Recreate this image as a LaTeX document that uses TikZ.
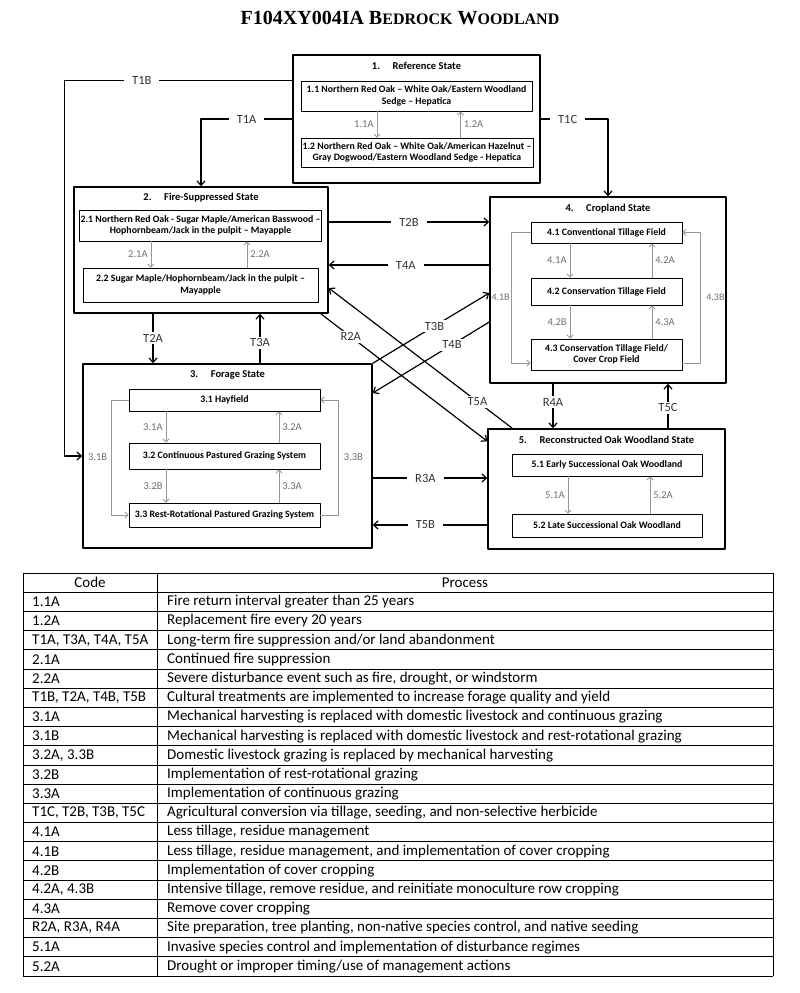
\documentclass[tikz,border=0pt]{standalone}
\usepackage{fontspec}
\setmainfont{Carlito}
\newfontfamily\titlefont{Liberation Serif}
\usetikzlibrary{arrows.meta}
\definecolor{arrgray}{RGB}{150,150,150}
\definecolor{labgray}{RGB}{110,110,110}
\begin{document}
\begin{tikzpicture}[x=1pt,y=-1pt,>={Straight Barb[length=4.5pt,width=8pt]},line join=round,
	statebox/.style={draw,line width=1.4pt,inner sep=0pt},
	subbox/.style={draw,line width=0.9pt,inner sep=1pt,align=center,font=\bfseries\fontsize{9.8}{11.5}\selectfont},
	stitle/.style={font=\bfseries\fontsize{10.5}{12}\selectfont},
	trans/.style={->,line width=1.2pt},
	tlabel/.style={fill=white,inner xsep=8pt,inner ysep=2pt,text=black!80,font=\fontsize{12.5}{13}\selectfont},
	subarr/.style={arrgray,line width=0.8pt,-{Straight Barb[length=3pt,width=6pt]}},
	slabel/.style={labgray,inner sep=3pt,font=\fontsize{10.5}{11}\selectfont},
	tabline/.style={line width=0.8pt},
	tabtext/.style={anchor=west,inner sep=0pt,font=\fontsize{15}{16}\selectfont}]
	\useasboundingbox (0,0) rectangle (800,993);
	\node (title) at (400,18) {\titlefont\bfseries\fontsize{20}{20}\selectfont F104XY004IA B{\fontsize{16}{16}\selectfont EDROCK} W{\fontsize{16}{16}\selectfont OODLAND}};
	% states
	\node[statebox,minimum width=247pt,minimum height=128pt] (s1) at (416.5,119) {};
	\node[statebox,minimum width=254pt,minimum height=126pt] (s2) at (201,250) {};
	\node[statebox,minimum width=289pt,minimum height=184pt] (s3) at (227.5,456) {};
	\node[statebox,minimum width=236pt,minimum height=186pt] (s4) at (608,290) {};
	\node[statebox,minimum width=237pt,minimum height=120pt] (s5) at (606.5,489) {};
	\node[stitle] at (416.5,66) {1.\hspace{1.2em}Reference State};
	\node[stitle] at (201,198) {2.\hspace{1.2em}Fire-Suppressed State};
	\node[stitle] at (227.5,375) {3.\hspace{1.2em}Forage State};
	\node[stitle] at (608,209) {4.\hspace{1.2em}Cropland State};
	\node[stitle] at (606.5,440) {5.\hspace{1.2em}Reconstructed Oak Woodland State};
	% community phases
	\node[subbox,minimum width=231pt,minimum height=30pt] (b11) at (416.5,96) {1.1 Northern Red Oak -- White Oak/Eastern Woodland\\Sedge -- Hepatica};
	\node[subbox,minimum width=232pt,minimum height=29pt] (b12) at (417,152.5) {1.2 Northern Red Oak -- White Oak/American Hazelnut --\\Gray Dogwood/Eastern Woodland Sedge - Hepatica};
	\node[subbox,minimum width=235pt,minimum height=31pt] (b21) at (200.5,225.5) {2.1 Northern Red Oak - Sugar Maple/American Basswood --\\Hophornbeam/Jack in the pulpit -- Mayapple};
	\node[subbox,minimum width=235pt,minimum height=34pt] (b22) at (200.5,285) {2.2 Sugar Maple/Hophornbeam/Jack in the pulpit --\\Mayapple};
	\node[subbox,minimum width=191pt,minimum height=22pt] (b31) at (224.5,400) {3.1 Hayfield};
	\node[subbox,minimum width=191pt,minimum height=26pt] (b32) at (224.5,456) {3.2 Continuous Pastured Grazing System};
	\node[subbox,minimum width=191pt,minimum height=24pt] (b33) at (224.5,515) {3.3 Rest-Rotational Pastured Grazing System};
	\node[subbox,minimum width=151pt,minimum height=21pt] (b41) at (606.5,232.5) {4.1 Conventional Tillage Field};
	\node[subbox,minimum width=151pt,minimum height=27pt] (b42) at (606.5,291.5) {4.2 Conservation Tillage Field};
	\node[subbox,minimum width=151pt,minimum height=31pt] (b43) at (606.5,354.5) {4.3 Conservation Tillage Field/\\Cover Crop Field};
	\node[subbox,minimum width=190pt,minimum height=22pt] (b51) at (607,465) {5.1 Early Successional Oak Woodland};
	\node[subbox,minimum width=190pt,minimum height=23pt] (b52) at (607,525.5) {5.2 Late Successional Oak Woodland};
	% pathways inside states
	\draw[subarr] ([xshift=-39.5pt]b11.south) -- node[slabel,left]{1.1A} ([xshift=-39.5pt]b11.south |- b12.north);
	\draw[subarr] ([xshift=43.5pt]b12.north) -- node[slabel,right]{1.2A} ([xshift=43.5pt]b12.north |- b11.south);
	\draw[subarr] ([xshift=-49.5pt]b21.south) -- node[slabel,left]{2.1A} ([xshift=-49.5pt]b21.south |- b22.north);
	\draw[subarr] ([xshift=46.5pt]b22.north) -- node[slabel,right]{2.2A} ([xshift=46.5pt]b22.north |- b21.south);
	\draw[subarr] ([xshift=-58.5pt]b31.south) -- node[slabel,left]{3.1A} ([xshift=-58.5pt]b31.south |- b32.north);
	\draw[subarr] ([xshift=54.5pt]b32.north) -- node[slabel,right]{3.2A} ([xshift=54.5pt]b32.north |- b31.south);
	\draw[subarr] ([xshift=-58.5pt]b32.south) -- node[slabel,left]{3.2B} ([xshift=-58.5pt]b32.south |- b33.north);
	\draw[subarr] ([xshift=54.5pt]b33.north) -- node[slabel,right]{3.3A} ([xshift=54.5pt]b33.north |- b32.south);
	\draw[subarr] (b31.west) -- ++(-17,0) |- node[slabel,pos=.25,xshift=-14pt,inner sep=0pt]{3.1B} (b33.west);
	\draw[subarr] (b33.east) -- ++(18,0) |- node[slabel,pos=.25,xshift=15pt,inner sep=0pt]{3.3B} (b31.east);
	\draw[subarr] ([xshift=-36.5pt]b41.south) -- node[slabel,left]{4.1A} ([xshift=-36.5pt]b41.south |- b42.north);
	\draw[subarr] ([xshift=45.5pt]b42.north) -- node[slabel,right]{4.2A} ([xshift=45.5pt]b42.north |- b41.south);
	\draw[subarr] ([xshift=-36.5pt]b42.south) -- node[slabel,left]{4.2B} ([xshift=-36.5pt]b42.south |- b43.north);
	\draw[subarr] ([xshift=45.5pt]b43.north) -- node[slabel,right]{4.3A} ([xshift=45.5pt]b43.north |- b42.south);
	\draw[subarr] (b41.west) -- ++(-19,0) |- node[slabel,pos=.25,xshift=-11pt,inner sep=0pt,font=\fontsize{10}{11}\selectfont]{4.1B} ([yshift=-8.5pt]b43.west);
	\draw[subarr] ([yshift=-8.5pt]b43.east) -- ++(18,0) |- node[slabel,pos=.25,xshift=15pt,inner sep=0pt,font=\fontsize{10}{11}\selectfont]{4.3B} (b41.east);
	\draw[subarr] ([xshift=-39pt]b51.south) -- node[slabel,left]{5.1A} ([xshift=-39pt]b51.south |- b52.north);
	\draw[subarr] ([xshift=43pt]b52.north) -- node[slabel,right]{5.2A} ([xshift=43pt]b52.north |- b51.south);
	% transitions and restorations
	\draw[trans] (s1.west |- b11.north) -- node[tlabel,pos=.66]{T1B} ++(-228,0) |- (s3.west);
	\draw[trans] (s1.west) -| node[tlabel,pos=.25]{T1A} (s2.north);
	\draw[trans] (s1.east) -| node[tlabel,pos=.2]{T1C} (s4.north);
	\draw[trans] ([yshift=28pt]s2.east) -- node[tlabel,pos=.5]{T2B} ([yshift=28pt]s2.east -| s4.west);
	\draw[trans] ([yshift=-15pt]s2.east -| s4.west) -- node[tlabel,pos=.52]{T4A} ([yshift=-15pt]s2.east);
	\draw[trans] ([xshift=-48pt]s2.south) -- node[tlabel,pos=.49]{T2A} ([xshift=-48pt]s2.south |- s3.north);
	\draw[trans] ([xshift=59pt]s2.south |- s3.north) -- node[tlabel,pos=.41]{T3A} ([xshift=59pt]s2.south);
	\draw[trans] ([xshift=-55pt]s4.south) -- node[tlabel,pos=.41]{R4A} ([xshift=-55pt]s4.south |- s5.north);
	\draw[trans] ([xshift=60pt]s4.south |- s5.north) -- node[tlabel,pos=.46]{T5C} ([xshift=60pt]s4.south);
	\draw[trans] ([yshift=-22pt]s3.east) -- node[tlabel,pos=.46]{R3A} ([yshift=-22pt]s3.east -| s5.west);
	\draw[trans] ([yshift=-69pt]s3.east -| s5.west) -- node[tlabel,pos=.54]{T5B} ([yshift=-69pt]s3.east);
	\draw[trans] (s3.north east) -- node[tlabel,pos=.53]{T3B} ([yshift=-3pt]s4.west);
	\draw[trans] ([yshift=-32pt]s4.west) -- node[tlabel,pos=.32]{T4B} ([yshift=63pt]s3.east);
	\draw[trans] ([xshift=-8pt]s2.south east) -- node[tlabel,pos=.18]{R2A} ([yshift=-13pt]s5.north west);
	\draw[trans] ([xshift=25pt]s5.north west) -- node[tlabel,pos=.19]{T5A} ([yshift=-38pt]s2.east);
	% table
	\foreach \i in {0,...,21}
		\draw[tabline] (23,{573+19.19*\i}) -- (773,{573+19.19*\i});
	\foreach \xx in {23,157,773}
		\draw[tabline] (\xx,573) -- (\xx,976);
	\node[font=\fontsize{15}{16}\selectfont] at (90,582.6) {Code};
	\node[font=\fontsize{15}{16}\selectfont] at (465,582.6) {Process};
	\foreach \c/\p [count=\i] in {
		{1.1A}/{Fire return interval greater than 25 years},
		{1.2A}/{Replacement fire every 20 years},
		{T1A, T3A, T4A, T5A}/{Long-term fire suppression and/or land abandonment},
		{2.1A}/{Continued fire suppression},
		{2.2A}/{Severe disturbance event such as fire, drought, or windstorm},
		{T1B, T2A, T4B, T5B}/{Cultural treatments are implemented to increase forage quality and yield},
		{3.1A}/{Mechanical harvesting is replaced with domestic livestock and continuous grazing},
		{3.1B}/{Mechanical harvesting is replaced with domestic livestock and rest-rotational grazing},
		{3.2A, 3.3B}/{Domestic livestock grazing is replaced by mechanical harvesting},
		{3.2B}/{Implementation of rest-rotational grazing},
		{3.3A}/{Implementation of continuous grazing},
		{T1C, T2B, T3B, T5C}/{Agricultural conversion via tillage, seeding, and non-selective herbicide},
		{4.1A}/{Less tillage, residue management},
		{4.1B}/{Less tillage, residue management, and implementation of cover cropping},
		{4.2B}/{Implementation of cover cropping},
		{4.2A, 4.3B}/{Intensive tillage, remove residue, and reinitiate monoculture row cropping},
		{4.3A}/{Remove cover cropping},
		{R2A, R3A, R4A}/{Site preparation, tree planting, non-native species control, and native seeding},
		{5.1A}/{Invasive species control and implementation of disturbance regimes},
		{5.2A}/{Drought or improper timing/use of management actions}}
	{
		\node[tabtext] at (32,{573+19.19*(\i+0.5)}) {\c};
		\node[tabtext] at (167,{573+19.19*(\i+0.5)}) {\p};
	}
\end{tikzpicture}
\end{document}
